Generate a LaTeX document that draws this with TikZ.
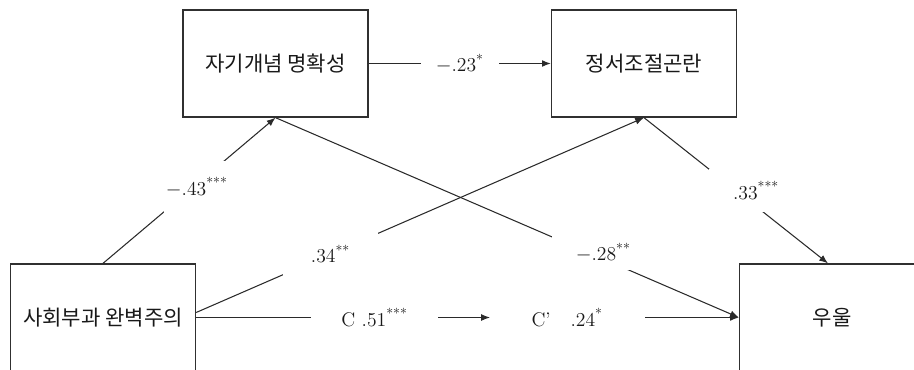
\documentclass[tikz,border=0pt]{standalone}
\usepackage{fontspec}
\usepackage{xcolor}
\newfontfamily\krfont{Noto Sans CJK KR}
\usetikzlibrary{arrows.meta}
\definecolor{cBOX}{HTML}{303030}
\definecolor{cLINE}{HTML}{2A2A2A}
\newcommand{\coeffont}{\fontsize{14}{16}\selectfont}
\newcommand{\sig}[1]{\textsuperscript{#1}}
\tikzset{
  varbox/.style={
    draw=cBOX, line width=0.9pt,
    minimum width=4.625cm,
    minimum height=2.675cm,
    inner sep=0pt,
    text=black!90,
    font=\krfont\fontsize{15}{16}\selectfont
  },
  effect/.style={
    -{Latex[length=2.2mm,width=1.7mm]},
    line width=0.75pt,
    draw=cLINE
  },
  coef/.style={
    fill=white,
    inner xsep=0.3cm,
    inner ysep=0.25cm,
    text=black!90,
    font=\coeffont
  }
}

\begin{document}
\begin{tikzpicture}[x=0.025cm, y=-0.025cm]
  \useasboundingbox (0,0) rectangle (914,369);

  % variables
  \node[varbox] (clar) at (275.5,63.5) {자기개념 명확성};
  \node[varbox] (emo)  at (644,63.5)   {정서조절곤란};
  \node[varbox] (perf) at (103,317.5)  {사회부과 완벽주의};
  \node[varbox] (dep)  at (832,317.5)  {우울};
  \coordinate (cmid) at (490,317.5);

  % paths
  \draw[effect] (clar.east) -- node[coef, pos=0.5, inner xsep=0.375cm]{$-$.23\sig{*}} (emo.west);
  \draw[effect] (perf.north) -- node[coef, pos=0.544, yshift=-0.08cm, inner ysep=0.42cm, inner xsep=0.05cm]{$-$.43\sig{***}} (clar.south);
  \draw[effect] ([yshift=0.125cm]perf.east) -- node[coef, pos=0.3, inner ysep=0.33cm, inner xsep=0.7cm]{.34\sig{**}} (emo.south);
  \draw[effect] (clar.south) -- node[coef, pos=0.675, xshift=0.375cm, inner ysep=0.2cm, inner xsep=0.6cm]{$-$.28\sig{**}} (dep.west);
  \draw[effect] (emo.south) -- node[coef, pos=0.5, xshift=0.5cm, inner ysep=0.3cm, inner xsep=0.6cm]{.33\sig{***}} ([xshift=-0.1cm]dep.north);
  % direct path: c' drawn first so the c arrow tip sits on top
  \draw[effect] (cmid) -- node[coef, pos=0.31, inner xsep=1.05cm]{C’\quad .24\sig{*}} (dep.west);
  \draw[effect] (perf.east) -- node[coef, pos=0.607, inner xsep=0.75cm]{C .51\sig{***}} (cmid);
\end{tikzpicture}
\end{document}
